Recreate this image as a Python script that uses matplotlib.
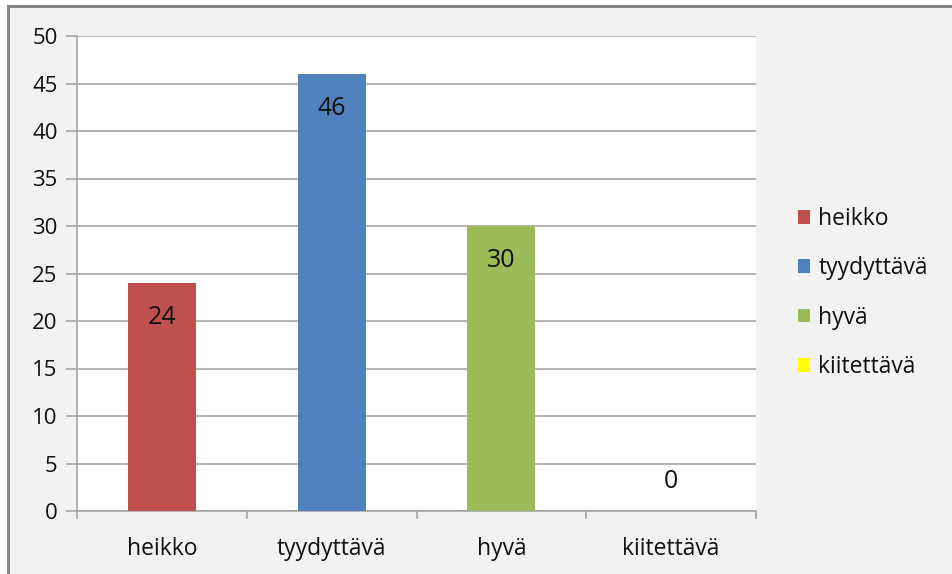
import matplotlib.pyplot as plt
from matplotlib.lines import Line2D
from matplotlib.patches import Patch

categories = ["heikko", "tyydyttävä", "hyvä", "kiitettävä"]
values = [24, 46, 30, 0]
colors = ["#c0504d", "#4f81bd", "#9bbb59", "#ffff00"]
yticks = [0, 5, 10, 15, 20, 25, 30, 35, 40, 45, 50]

W, H = 952, 574
plt.rcParams["font.family"] = ["Open Sans", "DejaVu Sans"]

fig = plt.figure(figsize=(W / 100, H / 100), dpi=100)
fig.patch.set_facecolor("white")

# gray chart area inside the frame
bg = plt.Rectangle((8 / W, 0), 1 - 8 / W, 1 - 6 / H, transform=fig.transFigure,
                   facecolor="#f2f2f2", edgecolor="none", zorder=-10)
fig.patches.append(bg)
fig.add_artist(Line2D([8 / W, 1], [1 - 6 / H, 1 - 6 / H], transform=fig.transFigure,
                      color="#868686", linewidth=2.2))
fig.add_artist(Line2D([8 / W, 8 / W], [0, 1 - 6 / H], transform=fig.transFigure,
                      color="#868686", linewidth=2.2))

left, right, top, bottom = 77, 756, 36, 511
ax = fig.add_axes([left / W, 1 - bottom / H, (right - left) / W, (bottom - top) / H])
ax.set_facecolor("white")

x = list(range(len(categories)))
ax.bar(x, values, width=0.4, color=colors, zorder=3)
ax.set_xlim(-0.5, len(categories) - 0.5)
ax.set_ylim(0, 50)
ax.set_yticks(yticks)
ax.yaxis.grid(True, color="#a6a6a6", linewidth=1.2, zorder=0)

for s in ["top", "right"]:
    ax.spines[s].set_visible(False)
for s in ["left", "bottom"]:
    ax.spines[s].set_color("#a6a6a6")
    ax.spines[s].set_linewidth(1.2)

txt = "#111111"
ax.set_xticks([i - 0.5 for i in range(len(categories) + 1)])
ax.set_xticklabels([])
ax.set_xticks(x, minor=True)
ax.set_xticklabels(categories, minor=True)
ax.tick_params(axis="x", which="major", length=6, color="#a6a6a6", width=1.2)
ax.tick_params(axis="x", which="minor", length=0, pad=19, labelsize=16.5, labelcolor=txt)
ax.tick_params(axis="y", length=8, color="#a6a6a6", width=1.2, pad=6, labelsize=16,
               labelcolor=txt)

for i, v in enumerate(values):
    if v > 0:
        ax.annotate(str(v), (i, v), xytext=(0, -25), textcoords="offset points",
                    ha="center", va="center", fontsize=18, color=txt, zorder=4)
    else:
        ax.annotate(str(v), (i, v), xytext=(0, 21), textcoords="offset points",
                    ha="center", va="center", fontsize=18, color=txt, zorder=4)

handles = [Patch(facecolor=c, edgecolor="none") for c in colors]
leg = fig.legend(handles, categories, loc="center left", bbox_to_anchor=(777 / W, 1 - 293 / H),
                 frameon=False, fontsize=16.5, handlelength=0.55, handleheight=0.55,
                 handletextpad=0.35, labelspacing=1.1, labelcolor=txt)

fig.savefig("out.png", dpi=100)
